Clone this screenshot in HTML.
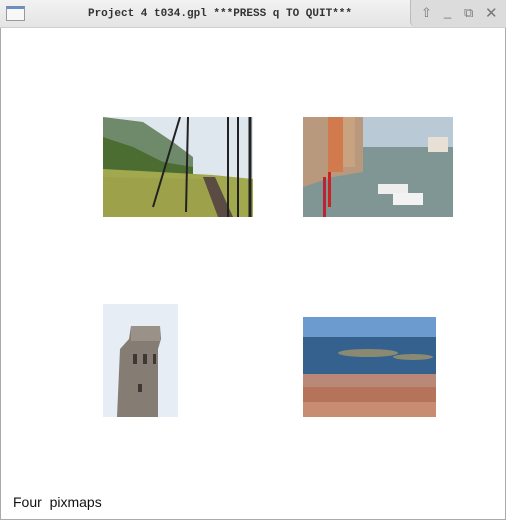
<!DOCTYPE html>
<html><head><meta charset="utf-8"><style>
html,body{margin:0;padding:0;width:506px;height:520px;overflow:hidden;background:#fff;font-family:"Liberation Sans",sans-serif}
#titlebar{position:absolute;left:0;top:0;width:506px;height:28px;background:linear-gradient(#f2f2f2,#e4e4e4);border-bottom:1px solid #cfcfcf;box-sizing:border-box}
#title{position:absolute;left:0;width:440px;top:8px;text-align:center;font:bold 11px "Liberation Mono",monospace;color:#333}
#frame{position:absolute;left:0;top:28px;width:506px;height:492px;border:1px solid #aaa;border-top:none;box-sizing:border-box}
.pic{position:absolute;overflow:hidden}
#caption{position:absolute;left:13px;top:494px;font-size:14px;color:#111}
</style></head><body>
<div id="titlebar">
 <div style="position:absolute;left:6px;top:6px;width:19px;height:15px;border:1px solid #999;background:#f8f8f8;box-sizing:border-box;border-top:3px solid #6b8fc0"></div>
 <div id="title">Project 4 t034.gpl ***PRESS q TO QUIT***</div>
 <div style="position:absolute;left:410px;top:0;width:96px;height:27px;background:#dcdcdc;border-left:1px solid #bbb;border-bottom-left-radius:6px;color:#777;font-size:13px">
  <span style="position:absolute;left:10px;top:5px">⇧</span>
  <span style="position:absolute;left:33px;top:4px">_</span>
  <span style="position:absolute;left:53px;top:5px">⧉</span>
  <span style="position:absolute;left:74px;top:4px;font-size:15px">✕</span>
 </div>
</div>
<div id="frame"></div>

<svg class="pic" style="left:103px;top:117px" width="150" height="100">
 <rect width="150" height="100" fill="#dfe7ee"/>
 <polygon points="0,0 40,5 70,25 90,40 90,55 0,55" fill="#6f8a6a"/>
 <polygon points="0,20 30,30 60,45 90,50 90,60 0,60" fill="#4c6d32"/>
 <polygon points="0,52 110,58 150,62 150,100 0,100" fill="#a2a84e"/>
 <polygon points="0,60 100,62 115,100 0,100" fill="#9da24a"/>
 <polygon points="100,60 112,60 130,100 115,100" fill="#5a4c42"/>
 <g stroke="#222" stroke-width="2"><line x1="77" y1="0" x2="50" y2="90"/><line x1="85" y1="0" x2="83" y2="95"/><line x1="125" y1="0" x2="125" y2="100"/><line x1="135" y1="0" x2="135" y2="100"/><line x1="147" y1="0" x2="147" y2="100" stroke-width="3"/></g>
</svg>

<svg class="pic" style="left:303px;top:117px" width="150" height="100">
 <rect width="150" height="100" fill="#b9c9d6"/>
 <rect y="30" width="150" height="70" fill="#7f9694"/>
 <polygon points="0,0 60,0 60,55 30,60 0,70" fill="#b8997e"/>
 <rect x="25" y="0" width="15" height="55" fill="#d07a4e"/>
 <rect x="40" y="0" width="12" height="50" fill="#c9a27f"/>
 <rect x="125" y="20" width="20" height="15" fill="#e8e0d4"/>
 <rect x="20" y="60" width="3" height="40" fill="#b23"/><rect x="25" y="55" width="3" height="35" fill="#c22"/>
 <rect x="75" y="67" width="30" height="10" fill="#eee"/><rect x="90" y="76" width="30" height="12" fill="#f2f2f2"/>
</svg>

<svg class="pic" style="left:103px;top:304px" width="75" height="113">
 <rect width="75" height="113" fill="#e6edf5"/>
 <polygon points="28,22 57,22 58,35 55,45 55,113 14,113 17,45 26,35" fill="#857d74"/>
 <rect x="28" y="22" width="29" height="15" fill="#9a9188"/>
 <g fill="#3d3833"><rect x="30" y="50" width="4" height="10"/><rect x="40" y="50" width="4" height="10"/><rect x="50" y="50" width="3" height="10"/><rect x="35" y="80" width="4" height="8"/></g>
</svg>

<svg class="pic" style="left:303px;top:317px" width="133" height="100">
 <rect width="133" height="100" fill="#6c9bd0"/>
 <rect y="20" width="133" height="40" fill="#34618e"/>
 <ellipse cx="65" cy="36" rx="30" ry="4" fill="#8a8a72"/>
 <ellipse cx="110" cy="40" rx="20" ry="3" fill="#8a8a72"/>
 <rect y="57" width="133" height="43" fill="#b98876"/>
 <rect y="70" width="133" height="30" fill="#b5735a"/>
 <rect y="85" width="133" height="15" fill="#c88c72"/>
</svg>

<div id="caption">Four&nbsp;&nbsp;pixmaps</div>
</body></html>
